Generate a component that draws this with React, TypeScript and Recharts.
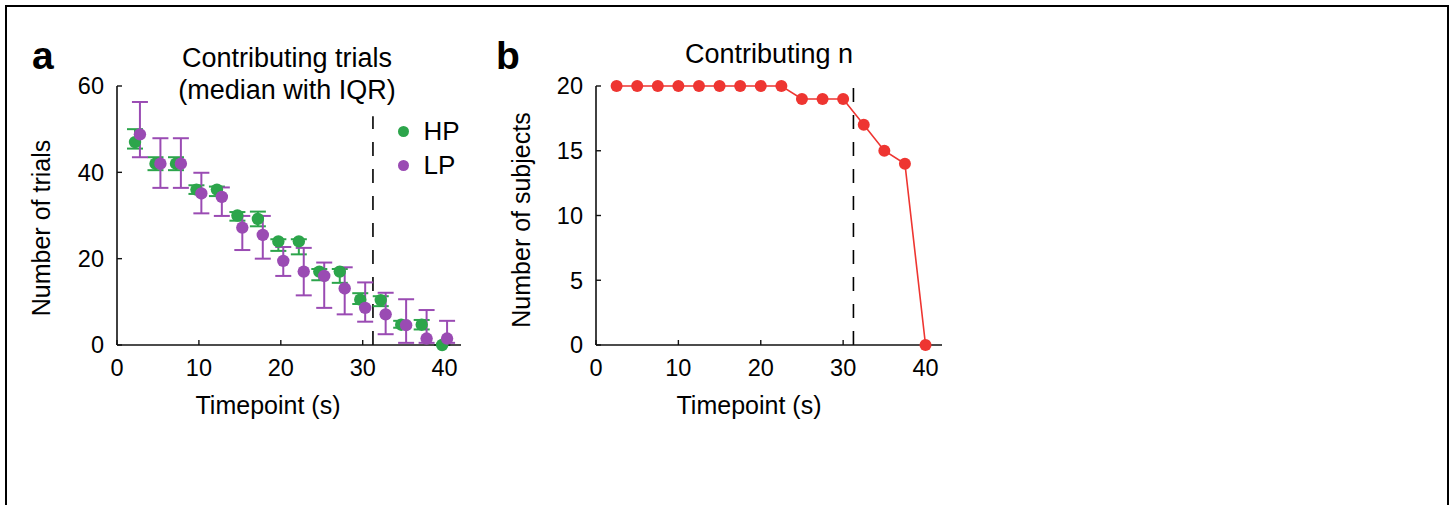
import React from 'react';
import {
  ScatterChart, Scatter, XAxis, YAxis, ErrorBar, ReferenceLine, Legend,
  LineChart, Line,
} from 'recharts';

// ---------- data ----------
const timepoints = [2.5, 5, 7.5, 10, 12.5, 15, 17.5, 20, 22.5, 25, 27.5, 30, 32.5, 35, 37.5, 40];

const hpMedian = [47, 42, 42, 36, 36, 30, 29.2, 24, 24, 17, 17, 10.5, 10.4, 4.7, 4.7, 0];
const hpLow = [45.5, 40.5, 40.5, 35, 34.5, 28.8, 27.5, 21.8, 21, 15, 14.4, 9.5, 9, 4, 3.6, 0];
const hpHigh = [50, 43.5, 43.5, 37, 36.7, 30.8, 30.9, 24.5, 24.5, 17.6, 17.6, 12, 11.3, 5.6, 5.8, 0];

const lpMedian = [48.8, 42, 42, 35.1, 34.3, 27.2, 25.5, 19.5, 17, 16, 13.1, 8.6, 7.1, 4.6, 1.5, 1.5];
const lpLow = [43.5, 36.4, 36.4, 30.5, 29.9, 22, 20, 16, 11.5, 8.6, 7.1, 5.4, 2.5, 0.5, 0.5, 0.5];
const lpHigh = [56.3, 47.9, 47.9, 39.9, 36.5, 29.9, 29.9, 22.7, 22.5, 19.1, 18, 14.5, 12.1, 10.6, 8.1, 5.6];

const subjects = [20, 20, 20, 20, 20, 20, 20, 20, 20, 19, 19, 19, 17, 15, 14, 0];

const xTicks = [0, 10, 20, 30, 40];
const yTicksA = [0, 20, 40, 60];
const yTicksB = [0, 5, 10, 15, 20];
const cutoff = 31.25;
const cutoffTopA = 53;

// ---------- styles ----------
const GREEN = '#2ca54b';
const PURPLE = '#9a4bb3';
const RED = '#ee3531';
const FONT = "'Liberation Sans', Arial, Helvetica, sans-serif";
const JITTER = 0.3;

const hpData = timepoints.map((t, i) => ({
  x: t - JITTER, y: hpMedian[i], err: [hpMedian[i] - hpLow[i], hpHigh[i] - hpMedian[i]],
}));
const lpData = timepoints.map((t, i) => ({
  x: t + JITTER, y: lpMedian[i], err: [lpMedian[i] - lpLow[i], lpHigh[i] - lpMedian[i]],
}));
const subjData = timepoints.map((t, i) => ({ t, n: subjects[i] }));

const axisLine = { stroke: '#111', strokeWidth: 1.6 };
const tickLine = { stroke: '#111', strokeWidth: 1.4 };
const tickFont = { fill: '#000', fontSize: 23.5, fontFamily: FONT };

const dot = (color: string) => (p: any) => (
  <circle cx={p.cx} cy={p.cy} r={6.2} fill={color} stroke="none" />
);

const LegendContent = (props: any) => {
  const payload = props.payload || [];
  return (
    <div style={{ fontFamily: FONT, fontSize: 26, color: '#000' }}>
      {payload.map((e: any) => (
        <div key={e.value} style={{ height: 34, display: 'flex', alignItems: 'center' }}>
          <svg width={11} height={11} style={{ marginRight: 15 }}>
            <circle cx={5.5} cy={5.5} r={5.5} fill={e.color} />
          </svg>
          <span>{e.value}</span>
        </div>
      ))}
    </div>
  );
};

export default function App() {
  return (
    <div style={{ position: 'absolute', left: 0, top: 0, width: 1452, height: 505, background: '#fff', overflow: 'hidden' }}>
      <div style={{ position: 'absolute', left: 5, top: 5, width: 1444, height: 600, border: '2px solid #000', boxSizing: 'border-box' }} />

      {/* Panel a */}
      <div style={{ position: 'absolute', left: 0, top: 0 }}>
        <ScatterChart width={480} height={440} margin={{ top: 86, right: 19, bottom: 0, left: 0 }} style={{ fontFamily: FONT }}>
          <XAxis type="number" dataKey="x" domain={[0, 42]} ticks={xTicks} interval={0}
            height={95} tickSize={-5} tickMargin={19} axisLine={axisLine} tickLine={tickLine} tick={tickFont} />
          <YAxis type="number" dataKey="y" domain={[0, 60]} ticks={yTicksA} interval={0}
            width={117} tickSize={-5} tickMargin={18} axisLine={axisLine} tickLine={tickLine} tick={tickFont} />
          <ReferenceLine segment={[{ x: cutoff, y: 0 }, { x: cutoff, y: cutoffTopA }]}
            stroke="#000" strokeWidth={1.6} strokeDasharray="14 13" />
          <Scatter name="HP" data={hpData} fill={GREEN} shape={dot(GREEN)} isAnimationActive={false}>
            <ErrorBar dataKey="err" direction="y" width={8} stroke={GREEN} strokeWidth={2} />
          </Scatter>
          <Scatter name="LP" data={lpData} fill={PURPLE} shape={dot(PURPLE)} isAnimationActive={false}>
            <ErrorBar dataKey="err" direction="y" width={8} stroke={PURPLE} strokeWidth={2} />
          </Scatter>
          <Legend layout="vertical" align="center" verticalAlign="middle" content={<LegendContent />}
            wrapperStyle={{ left: 397.5, top: 114, width: 90 }} />
        </ScatterChart>
      </div>

      {/* Panel b */}
      <div style={{ position: 'absolute', left: 480, top: 0 }}>
        <LineChart width={480} height={440} data={subjData} margin={{ top: 86, right: 18, bottom: 0, left: 0 }} style={{ fontFamily: FONT }}>
          <XAxis type="number" dataKey="t" domain={[0, 42]} ticks={xTicks} interval={0}
            height={95} tickSize={-5} tickMargin={19} axisLine={axisLine} tickLine={tickLine} tick={tickFont} />
          <YAxis type="number" domain={[0, 20]} ticks={yTicksB} interval={0}
            width={116} tickSize={-5} tickMargin={18} axisLine={axisLine} tickLine={tickLine} tick={tickFont} />
          <ReferenceLine x={cutoff} stroke="#000" strokeWidth={1.6} strokeDasharray="14 13" />
          <Line type="linear" dataKey="n" stroke={RED} strokeWidth={1.6}
            dot={{ r: 6, fill: RED, stroke: RED, strokeWidth: 0 }} isAnimationActive={false} />
        </LineChart>
      </div>

      {/* Text annotations */}
      <svg width={1452} height={505} style={{ position: 'absolute', left: 0, top: 0, pointerEvents: 'none' }}
        fontFamily={FONT}>
        <text x={32} y={69} fontSize={39} fontWeight="bold" fill="#000">a</text>
        <text x={496} y={69} fontSize={39} fontWeight="bold" fill="#000">b</text>

        <text x={287} y={67} fontSize={27} textAnchor="middle" fill="#000">Contributing trials</text>
        <text x={287} y={99} fontSize={27} textAnchor="middle" fill="#000">(median with IQR)</text>
        <text x={769} y={63} fontSize={27} textAnchor="middle" fill="#000">Contributing n</text>

        <text transform="translate(41,228) rotate(-90)" fontSize={25} textAnchor="middle" dominantBaseline="central" fill="#000">Number of trials</text>
        <text transform="translate(521,220) rotate(-90)" fontSize={25} textAnchor="middle" dominantBaseline="central" fill="#000">Number of subjects</text>

        <text x={268} y={414} fontSize={25} textAnchor="middle" fill="#000">Timepoint (s)</text>
        <text x={749} y={414} fontSize={25} textAnchor="middle" fill="#000">Timepoint (s)</text>
      </svg>
    </div>
  );
}
